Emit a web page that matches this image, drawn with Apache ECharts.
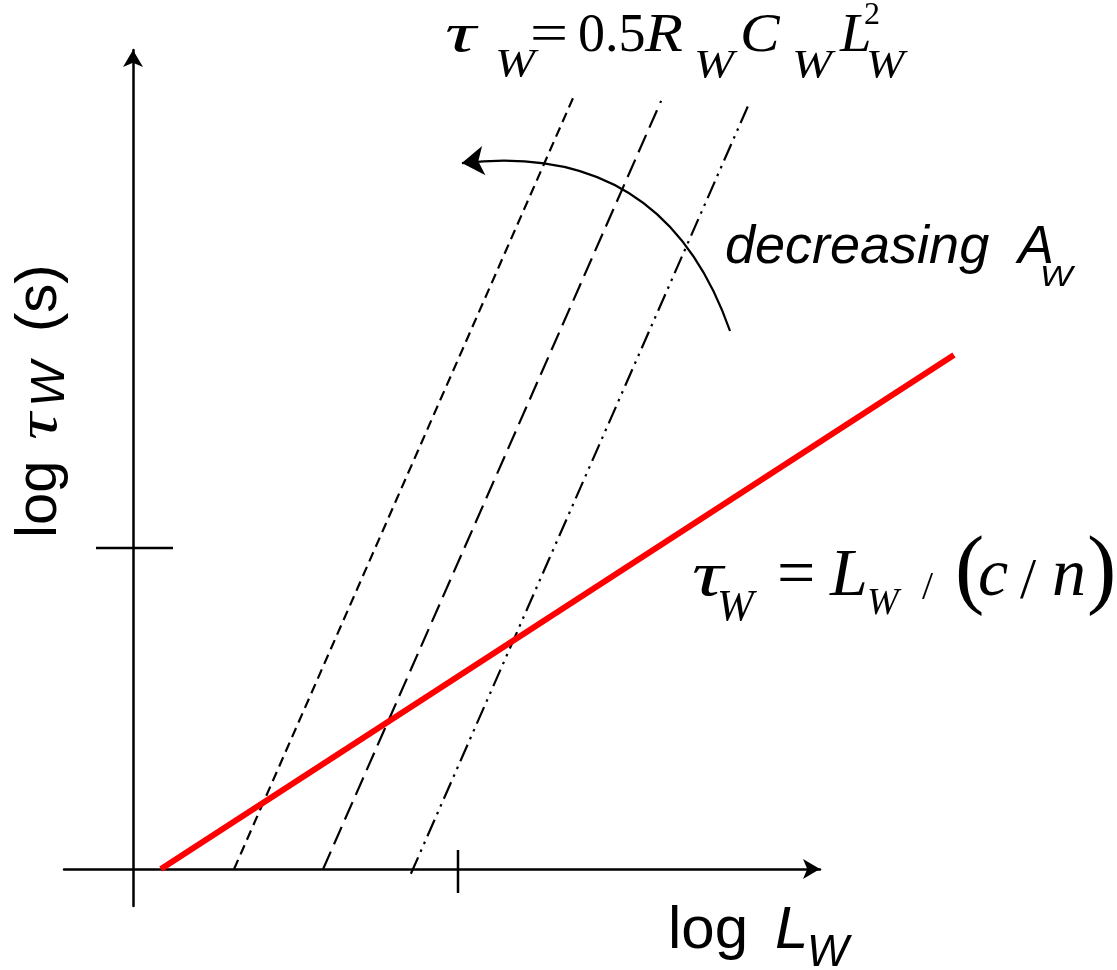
<!DOCTYPE html>
<html>
<head>
<meta charset="utf-8">
<script src="https://cdn.jsdelivr.net/npm/echarts@6/dist/echarts.min.js"></script>
<style>html,body{margin:0;padding:0;background:#fff;}#c{width:1117px;height:970px;}</style>
</head>
<body>
<div id="c"></div>
<script>
// ---- data (log-log schematic units: 1 unit = one tick) ----
const xTicks = [1];
const yTicks = [1];
const xAxisRange = [-0.2123, 2.1138];   // drawn axis (with arrow)
const xPlotRange = [-0.2123, 2.6677];   // plotting extent (red line runs past the axis arrow)
const yRange = [-0.1153, 2.5514];
const redLine = [[0.086, 0], [2.526, 1.601]];          // tau = L/(c/n)
const shortDash = [[0.311, 0], [1.354, 2.402]];        // smallest A_W
const longDash = [[0.585, 0], [1.625, 2.393]];
const dashDotDot = [[0.855, -0.015], [1.895, 2.383]];  // largest A_W
const arrowCurve = [[1.837, 1.676], [1.012, 2.199]];   // "decreasing A_W" arrow

const SERIF = '"Liberation Serif","Times New Roman",serif';
const SANS = '"Liberation Sans",Arial,sans-serif';

function t(text, x, base, size, family, italic, sx) {
  const k = family === SERIF ? 0.3375 : 0.3465;
  return {
    type: 'text', x: x, y: base - k * size, silent: true,
    scaleX: sx || 1,
    style: {
      text: text, fill: '#000',
      font: (italic ? 'italic ' : '') + size + 'px ' + family,
      textAlign: 'left', textVerticalAlign: 'middle',
      align: 'left', verticalAlign: 'middle'
    }
  };
}

const chart = echarts.init(document.getElementById('c'), null, {renderer: 'canvas'});

const lineBase = {type: 'line', symbol: 'none', clip: false, silent: true, animation: false,
  xAxisIndex: 0, yAxisIndex: 0};
const hiddenAxis = {axisLine: {show: false}, axisTick: {show: false}, axisLabel: {show: false}, splitLine: {show: false}};
const shownAxisLine = {show: true, onZero: true, symbol: ['none', 'arrow'], symbolSize: [15, 17],
  lineStyle: {color: '#000', width: 2.5}};

const option = {
  backgroundColor: '#fff',
  animation: false,
  grid: [
    {left: 64, right: 117, top: 50, bottom: 64, containLabel: false},
    {left: 64, right: 297, top: 50, bottom: 64, containLabel: false}
  ],
  xAxis: [
    Object.assign({type: 'value', gridIndex: 0, min: xPlotRange[0], max: xPlotRange[1]}, hiddenAxis),
    {type: 'value', gridIndex: 1, min: xAxisRange[0], max: xAxisRange[1],
      axisLine: shownAxisLine, axisTick: {show: false}, axisLabel: {show: false}, splitLine: {show: false}}
  ],
  yAxis: [
    Object.assign({type: 'value', gridIndex: 0, min: yRange[0], max: yRange[1]}, hiddenAxis),
    {type: 'value', gridIndex: 1, min: yRange[0], max: yRange[1],
      axisLine: shownAxisLine, axisTick: {show: false}, axisLabel: {show: false}, splitLine: {show: false}}
  ],
  series: [
    Object.assign({}, lineBase, {
      name: 'short', data: shortDash,
      lineStyle: {color: '#000', width: 2.2, type: [10, 6], cap: 'butt'}
    }),
    Object.assign({}, lineBase, {
      name: 'long', data: longDash,
      lineStyle: {color: '#000', width: 2.2, type: [19, 8], cap: 'butt'}
    }),
    Object.assign({}, lineBase, {
      name: 'dashdotdot', data: dashDotDot,
      lineStyle: {color: '#000', width: 2.2, type: [18, 6, 2.5, 6, 2.5, 6], cap: 'butt'}
    }),
    {
      type: 'lines', coordinateSystem: 'cartesian2d', xAxisIndex: 0, yAxisIndex: 0,
      silent: true, animation: false,
      symbol: ['none', 'arrow'], symbolSize: 22,
      lineStyle: {color: '#000', width: 2.2, type: 'solid', curveness: -0.4, opacity: 1},
      data: [{coords: arrowCurve}]
    },
    Object.assign({}, lineBase, {
      name: 'red', data: redLine, z: 5,
      lineStyle: {color: '#ff0000', width: 6, cap: 'butt'}
    }),
    {
      type: 'custom', name: 'xticks', silent: true, clip: false, xAxisIndex: 0, yAxisIndex: 0,
      data: xTicks.map(v => [v, 0]),
      renderItem: function (params, api) {
        const p = api.coord([api.value(0), 0]);
        return {type: 'line', shape: {x1: p[0], y1: p[1] - 19, x2: p[0], y2: p[1] + 24},
          style: {stroke: '#000', lineWidth: 2.5}};
      }
    },
    {
      type: 'custom', name: 'yticks', silent: true, clip: false, xAxisIndex: 0, yAxisIndex: 0,
      data: yTicks.map(v => [0, v]),
      renderItem: function (params, api) {
        const p = api.coord([0, api.value(1)]);
        return {type: 'line', shape: {x1: p[0] - 37, y1: p[1], x2: p[0] + 40, y2: p[1]},
          style: {stroke: '#000', lineWidth: 2.5}};
      }
    }
  ],
  graphic: [
    // tau_W = 0.5 R_W C_W L_W^2
    t('τ', 445, 55, 54, SERIF, true, 1.6),
    t('W', 495, 79, 40, SERIF, true, 1.2),
    t('=', 530, 55, 54, SERIF, false, 1.25),
    t('0.5', 578, 55, 54, SERIF, false),
    t('R', 645, 55, 54, SERIF, true, 1.15),
    t('W', 694, 80, 40, SERIF, true, 1.2),
    t('C', 740, 55, 54, SERIF, true, 1.1),
    t('W', 792, 80, 40, SERIF, true, 1.2),
    t('L', 840, 55, 54, SERIF, true, 1.05),
    t('2', 864, 26, 32, SERIF, false),
    t('W', 866, 80, 40, SERIF, true, 1.15),
    // tau_W = L_W /(c/n)
    t('τ', 692, 600, 64, SERIF, true, 1.35),
    t('W', 717, 623, 44, SERIF, true),
    t('=', 777, 600, 68, SERIF, false),
    t('L', 830, 600, 68, SERIF, true),
    t('W', 867, 617, 38, SERIF, true),
    t('/', 922, 602, 40, SERIF, false),
    t('(', 955, 604, 88, SERIF, false),
    t('c', 978, 600, 68, SERIF, true),
    t('/', 1020, 602, 58, SERIF, false),
    t('n', 1052, 600, 68, SERIF, true),
    t(')', 1087, 604, 88, SERIF, false),
    // decreasing A_W
    t('decreasing', 725, 267, 54, SANS, true),
    t('A', 1018, 267, 54, SANS, true),
    t('W', 1040, 288, 30, SANS, true, 1.15),
    // log L_W
    t('log', 668, 952, 60, SANS, false),
    t('L', 775, 952, 60, SANS, true),
    t('W', 807, 969, 44, SANS, true),
    // y label (rotated)
    {
      type: 'group', x: 0, y: 538, rotation: Math.PI / 2, silent: true,
      children: [
        t('log', 0, 60, 58, SANS, false),
        t('τ', 98, 60, 58, SERIF, true, 1.3),
        t('W', 131, 67, 48, SANS, true),
        t('(s)', 206, 60, 58, SANS, false)
      ]
    }
  ]
};
chart.setOption(option);
</script>
</body>
</html>
